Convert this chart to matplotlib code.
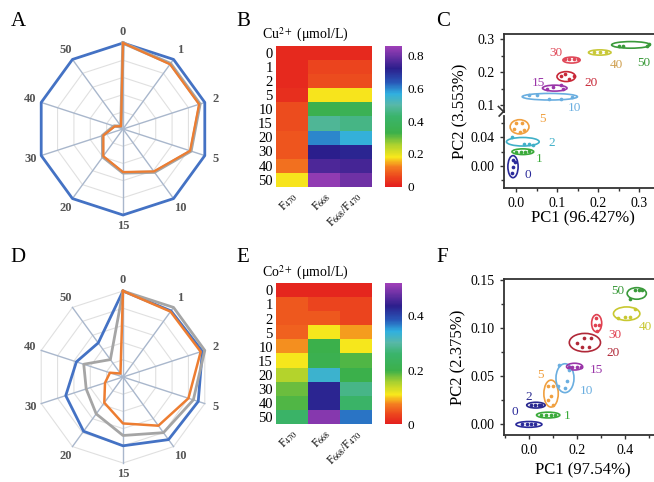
import numpy as np
import matplotlib
matplotlib.use('Agg')
import matplotlib.pyplot as plt
from matplotlib.colors import LinearSegmentedColormap
from matplotlib.patches import Ellipse

plt.rcParams['font.family'] = ['Liberation Serif', 'DejaVu Serif']
plt.rcParams['mathtext.fontset'] = 'stix'

W, H = 654, 482

conc = ['0', '1', '2', '5', '10', '15', '20', '30', '40', '50']
channels = [r'F$_{470}$', r'F$_{668}$', r'F$_{668}$/F$_{470}$']

# radar data (normalised response)
cu_blue = [1.00, 1.00, 1.00, 1.00, 1.00, 1.00, 1.00, 1.00, 1.00, 1.00]
cu_gray = [1.00, 0.94, 0.94, 0.83, 0.62, 0.51, 0.40, 0.25, 0.11, 0.04]
cu_orange = [1.00, 0.93, 0.93, 0.82, 0.61, 0.50, 0.39, 0.24, 0.10, 0.04]
co_blue = [1.00, 0.95, 0.97, 0.92, 0.90, 0.80, 0.78, 0.70, 0.57, 0.49]
co_gray = [1.00, 1.00, 1.00, 0.86, 0.80, 0.68, 0.53, 0.45, 0.48, 0.25]
co_orange = [1.00, 0.94, 0.95, 0.80, 0.70, 0.54, 0.37, 0.22, 0.16, 0.05]

# heatmap data
cu_f470 = [0.02, 0.02, 0.02, 0.03, 0.07, 0.07, 0.08, 0.08, 0.11, 0.18]
cu_f668 = [0.02, 0.06, 0.07, 0.18, 0.34, 0.48, 0.60, 0.72, 0.76, 0.84]
cu_ratio = [0.02, 0.06, 0.07, 0.18, 0.36, 0.46, 0.56, 0.71, 0.75, 0.80]
co_f470 = [0.01, 0.05, 0.05, 0.055, 0.08, 0.11, 0.15, 0.18, 0.19, 0.25]
co_f668 = [0.01, 0.035, 0.05, 0.11, 0.20, 0.21, 0.33, 0.43, 0.43, 0.50]
co_ratio = [0.01, 0.035, 0.035, 0.085, 0.11, 0.19, 0.20, 0.28, 0.25, 0.37]

# PCA groups, Cu (panel C)
c_cx = [-0.008, 0.016, 0.016, 0.008, 0.082, 0.094, 0.122, 0.135, 0.204, 0.280]
c_cy = [-0.001, 0.020, 0.034, 0.055, 0.126, 0.152, 0.187, 0.237, 0.260, 0.283]
c_w = [0.025, 0.053, 0.080, 0.046, 0.135, 0.060, 0.045, 0.042, 0.055, 0.094]
c_h = [0.031, 0.008, 0.012, 0.020, 0.020, 0.018, 0.030, 0.018, 0.016, 0.020]
c_px = [[-0.008, -0.008, -0.010, -0.004], [0.000, 0.012, 0.022, 0.030],
        [-0.010, 0.020, 0.030, 0.040], [0.000, 0.015, -0.005, 0.020, 0.008],
        [0.030, 0.050, 0.080, 0.110, 0.135], [0.075, 0.090, 0.110, 0.115],
        [0.110, 0.120, 0.130, 0.140], [0.120, 0.130, 0.140, 0.150],
        [0.190, 0.205, 0.220], [0.250, 0.260, 0.320, 0.325]]
c_py = [[0.008, -0.002, -0.010, 0.005], [0.020, 0.020, 0.020, 0.021],
        [0.040, 0.031, 0.031, 0.030], [0.060, 0.060, 0.052, 0.050, 0.048],
        [0.130, 0.130, 0.120, 0.120, 0.125], [0.150, 0.155, 0.160, 0.150],
        [0.190, 0.195, 0.180, 0.190], [0.240, 0.240, 0.240, 0.240],
        [0.260, 0.260, 0.260], [0.280, 0.280, 0.280, 0.285]]
c_lx = [0.028, 0.057, 0.086, 0.065, 0.143, 0.053, 0.182, 0.098, 0.245, 0.312]
c_ly = [-0.013, 0.010, 0.032, 0.066, 0.091, 0.169, 0.169, 0.258, 0.222, 0.229]

# PCA groups, Co (panel F)
f_cx = [0.000, 0.080, 0.029, 0.092, 0.150, 0.190, 0.233, 0.282, 0.407, 0.449]
f_cy = [0.000, 0.0097, 0.020, 0.032, 0.048, 0.060, 0.085, 0.105, 0.115, 0.136]
f_w = [0.108, 0.097, 0.077, 0.060, 0.075, 0.067, 0.130, 0.042, 0.110, 0.080]
f_h = [0.006, 0.006, 0.006, 0.028, 0.030, 0.007, 0.019, 0.018, 0.014, 0.012]
f_px = [[-0.030, -0.010, 0.010, 0.025], [0.050, 0.070, 0.090, 0.110],
        [0.010, 0.025, 0.040, 0.050], [0.080, 0.100, 0.090, 0.080, 0.100],
        [0.125, 0.165, 0.160, 0.150, 0.120], [0.165, 0.180, 0.200, 0.215],
        [0.200, 0.230, 0.260, 0.220, 0.250], [0.280, 0.275, 0.290, 0.285],
        [0.370, 0.400, 0.420, 0.440], [0.420, 0.440, 0.460, 0.470]]
f_py = [[0.000, 0.000, 0.000, 0.000], [0.010, 0.010, 0.010, 0.010],
        [0.020, 0.020, 0.020, 0.020], [0.040, 0.040, 0.030, 0.025, 0.020],
        [0.062, 0.056, 0.045, 0.038, 0.040], [0.060, 0.060, 0.060, 0.060],
        [0.085, 0.090, 0.090, 0.080, 0.080], [0.110, 0.103, 0.103, 0.097],
        [0.110, 0.112, 0.112, 0.120], [0.130, 0.140, 0.140, 0.140]]
f_lx = [-0.060, 0.160, 0.000, 0.046, 0.240, 0.280, 0.350, 0.360, 0.483, 0.372]
f_ly = [0.013, 0.009, 0.028, 0.051, 0.035, 0.057, 0.074, 0.093, 0.101, 0.139]

c_colors = ['#2a2a9a', '#3aaa3a', '#40b0c8', '#f0a040', '#6aaee0',
            '#9a35a8', '#c82838', '#e04858', '#c8c838', '#3a9a3a']
c_text = ['#2a2a9a', '#3aaa3a', '#40b0c8', '#f0a040', '#6aaee0',
          '#9a35a8', '#c82838', '#e04858', '#d0a050', '#3a9a3a']
f_colors = ['#2a2a9a', '#3aaa3a', '#2a2a90', '#f0a040', '#6aaee0',
            '#9a35a8', '#b02838', '#e04050', '#c8c830', '#3a9a3a']

cmap = LinearSegmentedColormap.from_list('spec', [
    (0.0, '#e41e1e'), (0.07, '#ec461e'), (0.14, '#f47c20'), (0.21, '#f8e81c'),
    (0.30, '#a8d030'), (0.38, '#3cb04a'), (0.50, '#3ab46c'), (0.58, '#58b8a8'),
    (0.66, '#30b0e0'), (0.74, '#2858b8'), (0.84, '#2c1e8c'), (1.0, '#a040b8')])


def box(x0, y0, x1, y1):
    # pixel box (top-left origin) -> figure fraction rect
    return [x0 / W, 1 - y1 / H, (x1 - x0) / W, (y1 - y0) / H]


fig = plt.figure(figsize=(W / 100, H / 100), dpi=100)


def radar(cx, cy, r, series):
    ax = fig.add_axes(box(cx - r, cy - r, cx + r, cy + r), projection='polar')
    ax.set_theta_offset(np.pi / 2)
    ax.set_theta_direction(-1)
    ax.set_axis_off()
    ax.set_ylim(0, 1)
    th = np.linspace(0, 2 * np.pi, len(conc), endpoint=False)
    thc = np.append(th, th[0])
    for lv in [0.2, 0.4, 0.6, 0.8, 1.0]:
        ax.plot(thc, [lv] * len(thc), color='#e0e0e0', lw=0.8, zorder=1, clip_on=False)
    for t in th:
        ax.plot([t, t], [0, 1.0], color='#a9b7cc', lw=1.0, zorder=1, clip_on=False)
    for vals, col, lw in series:
        v = np.append(vals, vals[0])
        ax.plot(thc, v, color=col, lw=lw, zorder=3, clip_on=False)
    for t, lab in zip(th, conc):
        ax.text(t, 1.13, lab, ha='center', va='center', fontsize=9,
                fontweight='bold', color='#555555')


radar(123, 129, 86, [(cu_blue, '#4472c4', 2.0), (cu_gray, '#a5a5a5', 2.4),
                     (cu_orange, '#ed7d31', 1.6)])
radar(123, 377, 86, [(co_blue, '#4472c4', 2.0), (co_gray, '#a5a5a5', 2.0),
                     (co_orange, '#ed7d31', 1.8)])


def heat(y0, y1, cols, vmax, ticks, title):
    ax = fig.add_axes(box(275.7, y0, 371.7, y1))
    data = np.column_stack(cols)
    im = ax.imshow(data, cmap=cmap, vmin=0, vmax=vmax, aspect='auto',
                   interpolation='nearest')
    ax.set_xticks(range(3))
    ax.set_xticklabels(channels, rotation=45, ha='right', rotation_mode='anchor',
                       fontsize=8.5)
    ax.set_yticks(range(len(conc)))
    ax.set_yticklabels(conc, fontsize=10.5)
    ax.tick_params(length=0, pad=2)
    for s in ax.spines.values():
        s.set_visible(False)
    ax.text(-0.14, 1.01, title, transform=ax.transAxes, ha='left', va='bottom',
            fontsize=10)
    cax = fig.add_axes(box(385, y0, 401.7, y1))
    cb = fig.colorbar(im, cax=cax, ticks=ticks)
    cb.outline.set_visible(False)
    cb.ax.set_yticklabels(['0' if t == 0 else '%.1f' % t for t in ticks])
    cax.tick_params(length=0, labelsize=9.5, pad=4)


heat(45.7, 186.7, [cu_f470, cu_f668, cu_ratio], 0.86, [0, 0.2, 0.4, 0.6, 0.8],
     r'Cu$^{2+}$ (μmol/L)')
heat(283.3, 424.3, [co_f470, co_f668, co_ratio], 0.52, [0, 0.2, 0.4],
     r'Co$^{2+}$ (μmol/L)')


def style(ax, sides):
    for k, s in ax.spines.items():
        s.set_visible(k in sides)
        s.set_color('#333333')
        s.set_linewidth(1.3)
    ax.tick_params(which='both', direction='out', color='#333333',
                   labelsize=10, width=1.0)
    ax.tick_params(which='major', length=3)
    ax.tick_params(which='minor', length=2)


def groups(ax, cx, cy, w, h, px, py, cols, lx, ly, tcols, keep):
    for i in range(len(cx)):
        if not keep(cy[i]):
            continue
        ax.add_patch(Ellipse((cx[i], cy[i]), w[i], h[i], fill=False,
                             ec=cols[i], lw=1.2))
        ax.scatter(px[i], py[i], s=7, color=cols[i], zorder=3, lw=0)
        ax.text(lx[i], ly[i], conc[i], color=tcols[i], fontsize=9.5,
                ha='center', va='center')


# panel C, broken y axis
xl_c = (-0.030, 0.361)
ax_up = fig.add_axes(box(504, 34, 664, 112))
ax_lo = fig.add_axes(box(504, 116, 664, 188))
ax_up.set_xlim(xl_c)
ax_lo.set_xlim(xl_c)
ax_up.set_ylim(0.0797, 0.316)
ax_lo.set_ylim(-0.031, 0.0702)
style(ax_up, ['left', 'top'])
style(ax_lo, ['left', 'bottom'])
ax_up.set_xticks([])
ax_up.set_yticks([0.1, 0.2, 0.3])
ax_up.set_yticklabels(['0.1', '0.2', '0.3'])
ax_up.set_yticks([0.15, 0.25], minor=True)
ax_lo.set_yticks([0.0, 0.04])
ax_lo.set_yticklabels(['0.00', '0.04'])
ax_lo.set_yticks([-0.02, 0.02, 0.06], minor=True)
ax_lo.set_xticks([0.0, 0.1, 0.2, 0.3])
ax_lo.set_xticklabels(['0.0', '0.1', '0.2', '0.3'])
ax_lo.set_xticks([0.05, 0.15, 0.25, 0.35], minor=True)
groups(ax_up, c_cx, c_cy, c_w, c_h, c_px, c_py, c_colors, c_lx, c_ly, c_text,
       lambda v: v > 0.075)
groups(ax_lo, c_cx, c_cy, c_w, c_h, c_px, c_py, c_colors, c_lx, c_ly, c_text,
       lambda v: v <= 0.075)
ax_up.plot([-0.035, 0.0], [0.07, 0.0], transform=ax_up.transAxes, color='#333333',
           lw=1.2, clip_on=False)
ax_lo.plot([-0.03, 0.0], [1.0, 1.07], transform=ax_lo.transAxes, color='#333333',
           lw=1.2, clip_on=False)
fig.text(460 / W, 1 - 111 / H, 'PC2 (3.553%)', rotation=90, ha='center',
         va='center', fontsize=12)
fig.text(583 / W, 1 - 218 / H, 'PC1 (96.427%)', ha='center', va='center',
         fontsize=12)

# panel F
ax_f = fig.add_axes(box(504, 279, 664, 435))
ax_f.set_xlim(-0.104, 0.5625)
ax_f.set_ylim(-0.011, 0.151)
style(ax_f, ['left', 'top', 'bottom'])
ax_f.set_xticks([0.0, 0.2, 0.4])
ax_f.set_xticklabels(['0.0', '0.2', '0.4'])
ax_f.set_xticks([-0.1, 0.1, 0.3, 0.5], minor=True)
ax_f.set_yticks([0.0, 0.05, 0.10, 0.15])
ax_f.set_yticklabels(['0.00', '0.05', '0.10', '0.15'])
ax_f.set_yticks([0.025, 0.075, 0.125], minor=True)
groups(ax_f, f_cx, f_cy, f_w, f_h, f_px, f_py, f_colors, f_lx, f_ly, f_colors,
       lambda v: True)
fig.text(458 / W, 1 - 357 / H, 'PC2 (2.375%)', rotation=90, ha='center',
         va='center', fontsize=12)
fig.text(583 / W, 1 - 470 / H, 'PC1 (97.54%)', ha='center', va='center',
         fontsize=12)

# panel letters
for lab, x, y in [('A', 18, 22), ('B', 243, 22), ('C', 443, 22),
                  ('D', 18, 258), ('E', 243, 258), ('F', 442, 258)]:
    fig.text(x / W, 1 - y / H, lab, fontsize=15, ha='center', va='center')

fig.savefig('out.png', dpi=100)
